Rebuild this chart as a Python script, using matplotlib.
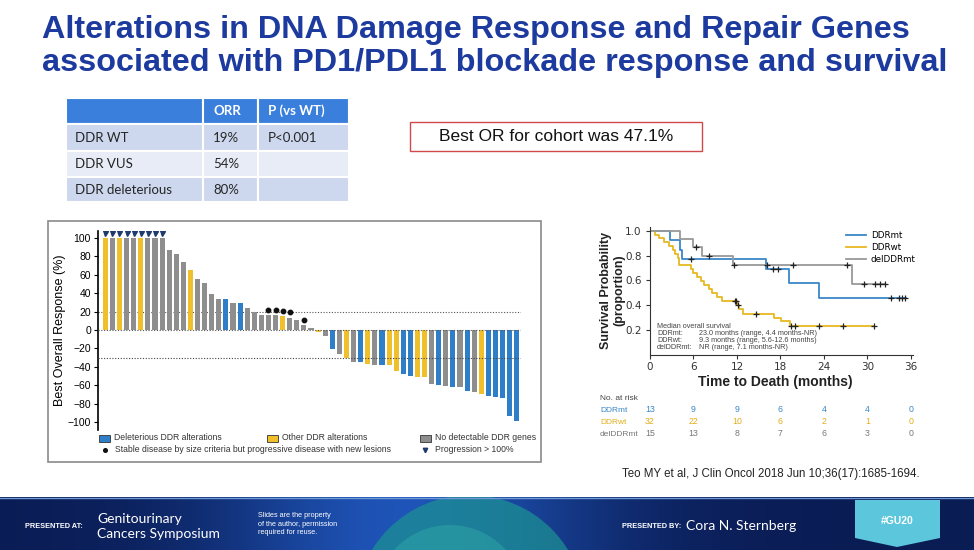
import numpy as np
import matplotlib
matplotlib.use("Agg")
import matplotlib.pyplot as plt
import matplotlib.patches as mpatches
import matplotlib.transforms as mtransforms

# ==============================
# DATA
# ==============================

title_lines = ["Alterations in DNA Damage Response and Repair Genes",
               "associated with PD1/PDL1 blockade response and survival"]

tbl_header = ["", "ORR", "P (vs WT)"]
tbl_rows = ["DDR WT", "DDR VUS", "DDR deleterious"]
tbl_orr = ["19%", "54%", "80%"]
tbl_p = ["P<0.001", "", ""]

best_or_text = "Best OR for cohort was 47.1%"

# waterfall: best overall response per patient, in plotted order
wf_values = [100, 100, 100, 100, 100, 100, 100, 100, 100, 87, 83, 74, 65, 55, 51,
             39, 34, 34, 29, 29, 24, 20, 16, 16, 16, 15, 13, 11, 5, 2,
             -2, -6, -21, -26, -30, -35, -35, -37, -38, -38, -38, -44, -48, -50, -51,
             -51, -59, -60, -61, -62, -62, -66, -67, -69, -72, -73, -74, -93, -99]
wf_groups = ["oth", "none", "oth", "none", "none", "oth", "none", "none", "none", "none",
             "none", "none", "oth", "none", "none", "none", "none", "del", "none", "del",
             "none", "none", "none", "none", "none", "oth", "none", "none", "none", "none",
             "oth", "none", "del", "none", "oth", "none", "del", "oth", "none", "del",
             "oth", "oth", "del", "del", "oth", "oth", "none", "del", "none", "del",
             "none", "del", "none", "oth", "del", "del", "del", "del", "del"]
stable_new_lesion_idx = [23, 24, 25, 26, 28]
progression_idx = [0, 1, 2, 3, 4, 5, 6, 7, 8]
group_names = {"del": "Deleterious DDR alterations",
               "oth": "Other DDR alterations",
               "none": "No detectable DDR genes"}
group_colors = {"del": "#2f7fc8", "oth": "#f0bf2c", "none": "#8e8e8e"}

# Kaplan-Meier curves (step times in months, survival proportion)
km_names = ["DDRmt", "DDRwt", "delDDRmt"]
ddrmt_t = [0, 2.7, 4.2, 4.4, 16.0, 19.2, 23.3, 35.3]
ddrmt_s = [1.0, 0.923, 0.846, 0.769, 0.69, 0.575, 0.46, 0.46]
ddrmt_cens = [5.6, 17.0, 17.6, 33.3, 34.4, 34.8, 35.2]

ddrwt_t = [0, 0.7, 1.3, 1.9, 2.6, 3.2, 3.5, 3.8, 4.0, 5.6, 6.0, 6.5, 7.0, 7.4, 8.1,
           8.6, 9.3, 10.0, 12.0, 12.3, 12.8, 17.1, 18.1, 19.3, 30.9]
ddrwt_s = [1.0, 0.969, 0.938, 0.906, 0.875, 0.844, 0.813, 0.781, 0.72, 0.69, 0.66,
           0.625, 0.594, 0.563, 0.531, 0.50, 0.469, 0.435, 0.40, 0.37, 0.33, 0.30,
           0.27, 0.23, 0.23]
ddrwt_cens = [11.7, 11.9, 12.1, 14.6, 19.5, 20.0, 23.3, 26.7, 30.9]

delddr_t = [0, 4.2, 6.0, 7.2, 11.4, 27.9, 32.5]
delddr_s = [1.0, 0.933, 0.867, 0.80, 0.72, 0.57, 0.57]
delddr_cens = [6.3, 8.1, 11.6, 16.2, 19.8, 27.2, 29.5, 31.1, 31.8, 32.5]

km_colors = ["#3a87c8", "#e8b923", "#999999"]

risk_times = [0, 6, 12, 18, 24, 30, 36]
risk_ddrmt = [13, 9, 9, 6, 4, 4, 0]
risk_ddrwt = [32, 22, 10, 6, 2, 1, 0]
risk_delddr = [15, 13, 8, 7, 6, 3, 0]

median_labels = ["DDRmt:", "DDRwt:", "delDDRmt:"]
median_values = ["23.0 months (range, 4.4 months-NR)",
                 "9.3 months (range, 5.6-12.6 months)",
                 "NR (range, 7.1 months-NR)"]

citation = "Teo MY et al, J Clin Oncol 2018 Jun 10;36(17):1685-1694."

# ==============================
# FIGURE
# ==============================

W, H = 974, 550
fig = plt.figure(figsize=(W / 100, H / 100), dpi=100)


def px_box(x0, y0, x1, y1):
    return [x0 / W, 1 - y1 / H, (x1 - x0) / W, (y1 - y0) / H]


bg = fig.add_axes([0, 0, 1, 1])
bg.axis("off")

SANS = ["Liberation Sans", "DejaVu Sans"]
NARROW = ["Liberation Sans Narrow", "Liberation Sans", "DejaVu Sans"]

# title
for i, line in enumerate(title_lines):
    bg.text(42, 30 + i * 33, line, fontsize=23.3, fontweight="bold", color="#1d3a9e",
            family="Liberation Sans", va="center", ha="left")

# ORR table
col_x = [66, 203, 258, 349]
row_y = [98, 124, 151, 177, 202]
row_fill = ["#3b7fdc", "#cdd8ee", "#e7ecf6", "#cdd8ee"]
for r in range(4):
    for c in range(3):
        bg.add_patch(mpatches.Rectangle((col_x[c], row_y[r]), col_x[c + 1] - col_x[c],
                                        row_y[r + 1] - row_y[r], facecolor=row_fill[r],
                                        edgecolor="white", lw=1.5))
for c in range(1, 3):
    bg.text(col_x[c] + 10, (row_y[0] + row_y[1]) / 2, tbl_header[c], fontsize=9.5,
            fontweight="bold", color="white", family=["Lato", "DejaVu Sans"], va="center")
for r, (name, orr, p) in enumerate(zip(tbl_rows, tbl_orr, tbl_p)):
    yc = (row_y[r + 1] + row_y[r + 2]) / 2
    for c, txt in enumerate([name, orr, p]):
        bg.text(col_x[c] + (9 if c == 0 else 10), yc, txt, fontsize=9.5, color="#262626",
                family=["Lato", "DejaVu Sans"], va="center")

# best OR box
bg.add_patch(mpatches.Rectangle((410, 122), 292, 29, facecolor="white",
                                edgecolor="#d04848", lw=1.0))
bg.text(556, 136.5, best_or_text, fontsize=12.5, family=SANS, ha="center", va="center",
        color="#111111")

# waterfall panel frame
bg.add_patch(mpatches.Rectangle((48, 221), 493, 241, facecolor="white",
                                edgecolor="#8a8a8a", lw=1.2))

# ==============================
# WATERFALL
# ==============================

wf = fig.add_axes(px_box(98, 230.5, 521, 429.5))
xs = np.arange(len(wf_values))
wf.bar(xs, wf_values, width=0.72, color=[group_colors[g] for g in wf_groups], zorder=2)
wf.axhline(20, color="#555555", lw=0.8, ls=(0, (1, 1.5)), zorder=1)
wf.axhline(0, color="#555555", lw=0.8, ls=(0, (1, 1.5)), zorder=3)
wf.axhline(-30, color="#444444", lw=0.8, ls=(0, (1, 1.5)), zorder=3)
wf.plot(stable_new_lesion_idx, [wf_values[i] + 6 for i in stable_new_lesion_idx], "o",
        color="#111111", ms=3.2, zorder=4)
wf.plot(progression_idx, [105] * len(progression_idx), "v", color="#1f3b6e", ms=3.6,
        zorder=4)
wf.set_xlim(-1.03, 58.6)
wf.set_ylim(-108, 108)
wf.set_yticks(range(-100, 101, 20))
wf.set_xticks([])
for s in ["top", "right", "bottom"]:
    wf.spines[s].set_visible(False)
wf.spines["left"].set_linewidth(1.2)
wf.tick_params(axis="y", labelsize=7.5, length=3, width=0.8, pad=2)
for lbl in wf.get_yticklabels():
    lbl.set_family(SANS)
wf.set_ylabel("Best Overall Response (%)", fontsize=9, family=NARROW, labelpad=1)
wf.patch.set_alpha(0)

# waterfall legend
leg_x = {"del": 99, "oth": 267, "none": 420}
for g, lx in leg_x.items():
    bg.add_patch(mpatches.Rectangle((lx, 434.5), 11, 7, facecolor=group_colors[g],
                                    edgecolor="#333333", lw=0.6))
    bg.text(lx + 15, 438, group_names[g], fontsize=6.2, family=SANS, va="center",
            color="#333333")
bg.plot([105], [450], "o", color="#111111", ms=2.6)
bg.text(115, 450, "Stable disease by size criteria but progressive disease with new lesions",
        fontsize=6.2, family=SANS, va="center", color="#333333")
bg.plot([425], [450], "v", color="#1f3b6e", ms=3.2)
bg.text(435, 450, "Progression > 100%", fontsize=6.2, family=SANS, va="center",
        color="#333333")

# ==============================
# KAPLAN-MEIER
# ==============================

km = fig.add_axes(px_box(650, 227, 913, 354.7))
curves = [(ddrmt_t, ddrmt_s, ddrmt_cens), (ddrwt_t, ddrwt_s, ddrwt_cens),
          (delddr_t, delddr_s, delddr_cens)]
for (t, s, cens), name, col in zip(curves, km_names, km_colors):
    km.step(t, s, where="post", color=col, lw=1.3, label=name)
    idx = np.searchsorted(t, cens, side="right") - 1
    km.plot(cens, np.array(s)[idx], "+", color="#222222", ms=5, mew=0.9)
km.set_xlim(0, 36.3)
km.set_ylim(0, 1.03)
km.set_xticks(risk_times)
km.set_yticks([0.2, 0.4, 0.6, 0.8, 1.0])
for sp in ["top", "right"]:
    km.spines[sp].set_visible(False)
for sp in ["left", "bottom"]:
    km.spines[sp].set_color("#333333")
km.tick_params(labelsize=7.5, length=3, width=0.8, colors="#333333", pad=3)
km.tick_params(axis="x", pad=2)
km.legend(loc="upper right", bbox_to_anchor=(1.04, 1.03), frameon=False, fontsize=6.3,
          handlelength=2.2, labelspacing=0.35, handletextpad=0.6)
km.patch.set_alpha(0)

bg.text(606, 290, "Survival Probability", rotation=90, fontsize=9, fontweight="bold",
        family=NARROW, ha="center", va="center", color="#222222")
bg.text(619, 290, "(proportion)", rotation=90, fontsize=9, fontweight="bold",
        family=NARROW, ha="center", va="center", color="#222222")
bg.text(775, 382, "Time to Death (months)", fontsize=10, fontweight="bold", family=NARROW,
        ha="center", va="center", color="#222222")

bg.text(657, 326, "Median overall survival", fontsize=5.2, family=SANS, color="#444444",
        va="center")
for i, (lab, val) in enumerate(zip(median_labels, median_values)):
    bg.text(657, 333.5 + i * 7, lab, fontsize=5.2, family=SANS, color="#444444", va="center")
    bg.text(699, 333.5 + i * 7, val, fontsize=5.2, family=SANS, color="#444444", va="center")

# number at risk
trans = mtransforms.blended_transform_factory(km.transData, bg.transData)
bg.text(600, 398, "No. at risk", fontsize=6, family=SANS, color="#444444", va="center")
for i, (name, col, counts) in enumerate(zip(km_names, ["#3a87c8", "#e0ad1a", "#777777"],
                                            [risk_ddrmt, risk_ddrwt, risk_delddr])):
    yy = 410 + i * 12
    bg.text(600, yy, name, fontsize=6, family=SANS, color=col, va="center")
    for tt, n in zip(risk_times, counts):
        bg.text(tt, yy, str(n), fontsize=6.3, family=SANS, color=col, ha="center",
                va="center", transform=trans)

bg.text(622, 474, citation, fontsize=8.3, family=SANS, color="#222222", va="center")

# ==============================
# FOOTER
# ==============================

gx = np.linspace(0, 1, W)
glow = np.exp(-((gx - 0.42) / 0.2) ** 2)
navy = np.array([0.04, 0.11, 0.33])
bright = np.array([0.12, 0.33, 0.72])
row = navy[None, :] + (bright - navy)[None, :] * glow[:, None]
grad = np.repeat(row[None, :, :], 53, axis=0)
bg.imshow(grad, extent=[0, W, 550, 497], aspect="auto", zorder=0)
clip = mpatches.Rectangle((0, 497), W, 53, transform=bg.transData)
for cx, cy, r, col, a in [(470, 610, 115, "#1c8f93", 0.75), (450, 600, 75, "#3fc2b0", 0.3)]:
    circ = mpatches.Circle((cx, cy), r, facecolor=col, alpha=a, zorder=1)
    bg.add_patch(circ)
    circ.set_clip_path(clip)
bg.plot([0, W], [497.5, 497.5], color="#6f9ad6", lw=1, zorder=2)

bg.text(25, 526, "PRESENTED AT:", fontsize=5.3, fontweight="bold", color="white",
        family=SANS, va="center", zorder=3)
bg.text(97, 519, "Genitourinary", fontsize=10, color="white", family=["Lato", "DejaVu Sans"],
        va="center", zorder=3)
bg.text(97, 534, "Cancers Symposium", fontsize=10, color="white",
        family=["Lato", "DejaVu Sans"], va="center", zorder=3)
bg.text(258, 524, "Slides are the property\nof the author, permission\nrequired for reuse.",
        fontsize=5.2, color="white", family=SANS, va="center", linespacing=1.35, zorder=3)
bg.text(622, 526, "PRESENTED BY:", fontsize=5.3, fontweight="bold", color="white",
        family=SANS, va="center", zorder=3)
bg.text(686, 526, "Cora N. Sternberg", fontsize=10, color="white",
        family=["Lato", "DejaVu Sans"], va="center", zorder=3)
bg.add_patch(mpatches.Polygon([(855, 500), (940, 500), (940, 538), (897, 547), (855, 538)],
                              closed=True, facecolor="#5cc6dc", zorder=3))
bg.text(897, 521, "#GU20", fontsize=7.5, fontweight="bold", color="white", family=SANS,
        ha="center", va="center", zorder=4)

bg.set_xlim(0, W)
bg.set_ylim(H, 0)

fig.savefig("out.png", dpi=100)
